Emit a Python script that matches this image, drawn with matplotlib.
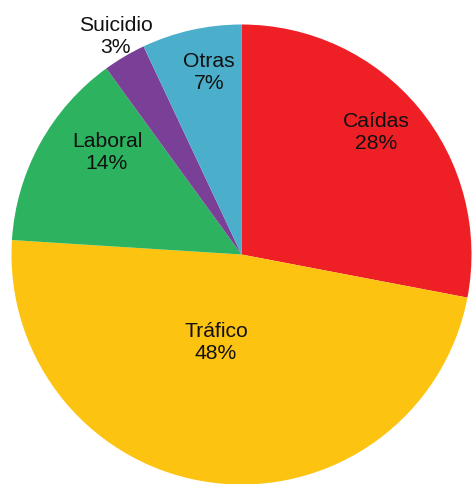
import matplotlib
matplotlib.use("Agg")
import matplotlib.pyplot as plt

categories = ["Caídas", "Tráfico", "Laboral", "Suicidio", "Otras"]
values = [28, 48, 14, 3, 7]
colors = ["#EE1F25", "#FDC311", "#2DB25F", "#7A3F97", "#4BAFCB"]

# label positions in units of radius, relative to pie centre (layout only)
label_pos = [(0.585, 0.535), (-0.111, -0.380), (-0.585, 0.446), (-0.546, 0.954), (-0.141, 0.796)]

W, H = 473, 485
fig = plt.figure(figsize=(W / 100, H / 100), dpi=100)
ax = fig.add_axes([0, 0, 1, 1])
ax.set_xlim(0, W)
ax.set_ylim(0, H)
ax.set_aspect("equal")
ax.axis("off")

cx, cy, R = 241.5, H - 255.5, 230
ax.pie(values, colors=colors, startangle=90, counterclock=False,
       center=(cx, cy), radius=R, frame=True,
       wedgeprops=dict(linewidth=0))
ax.set_xlim(0, W)
ax.set_ylim(0, H)
ax.axis("off")

for cat, v, (fx, fy) in zip(categories, values, label_pos):
    ax.text(cx + fx * R, cy + fy * R, f"{cat}\n{v}%", ha="center", va="center",
            fontsize=15.2, family=["Liberation Sans", "DejaVu Sans"],
            color="#111111", linespacing=1.2)

fig.savefig("out.png", dpi=100)
